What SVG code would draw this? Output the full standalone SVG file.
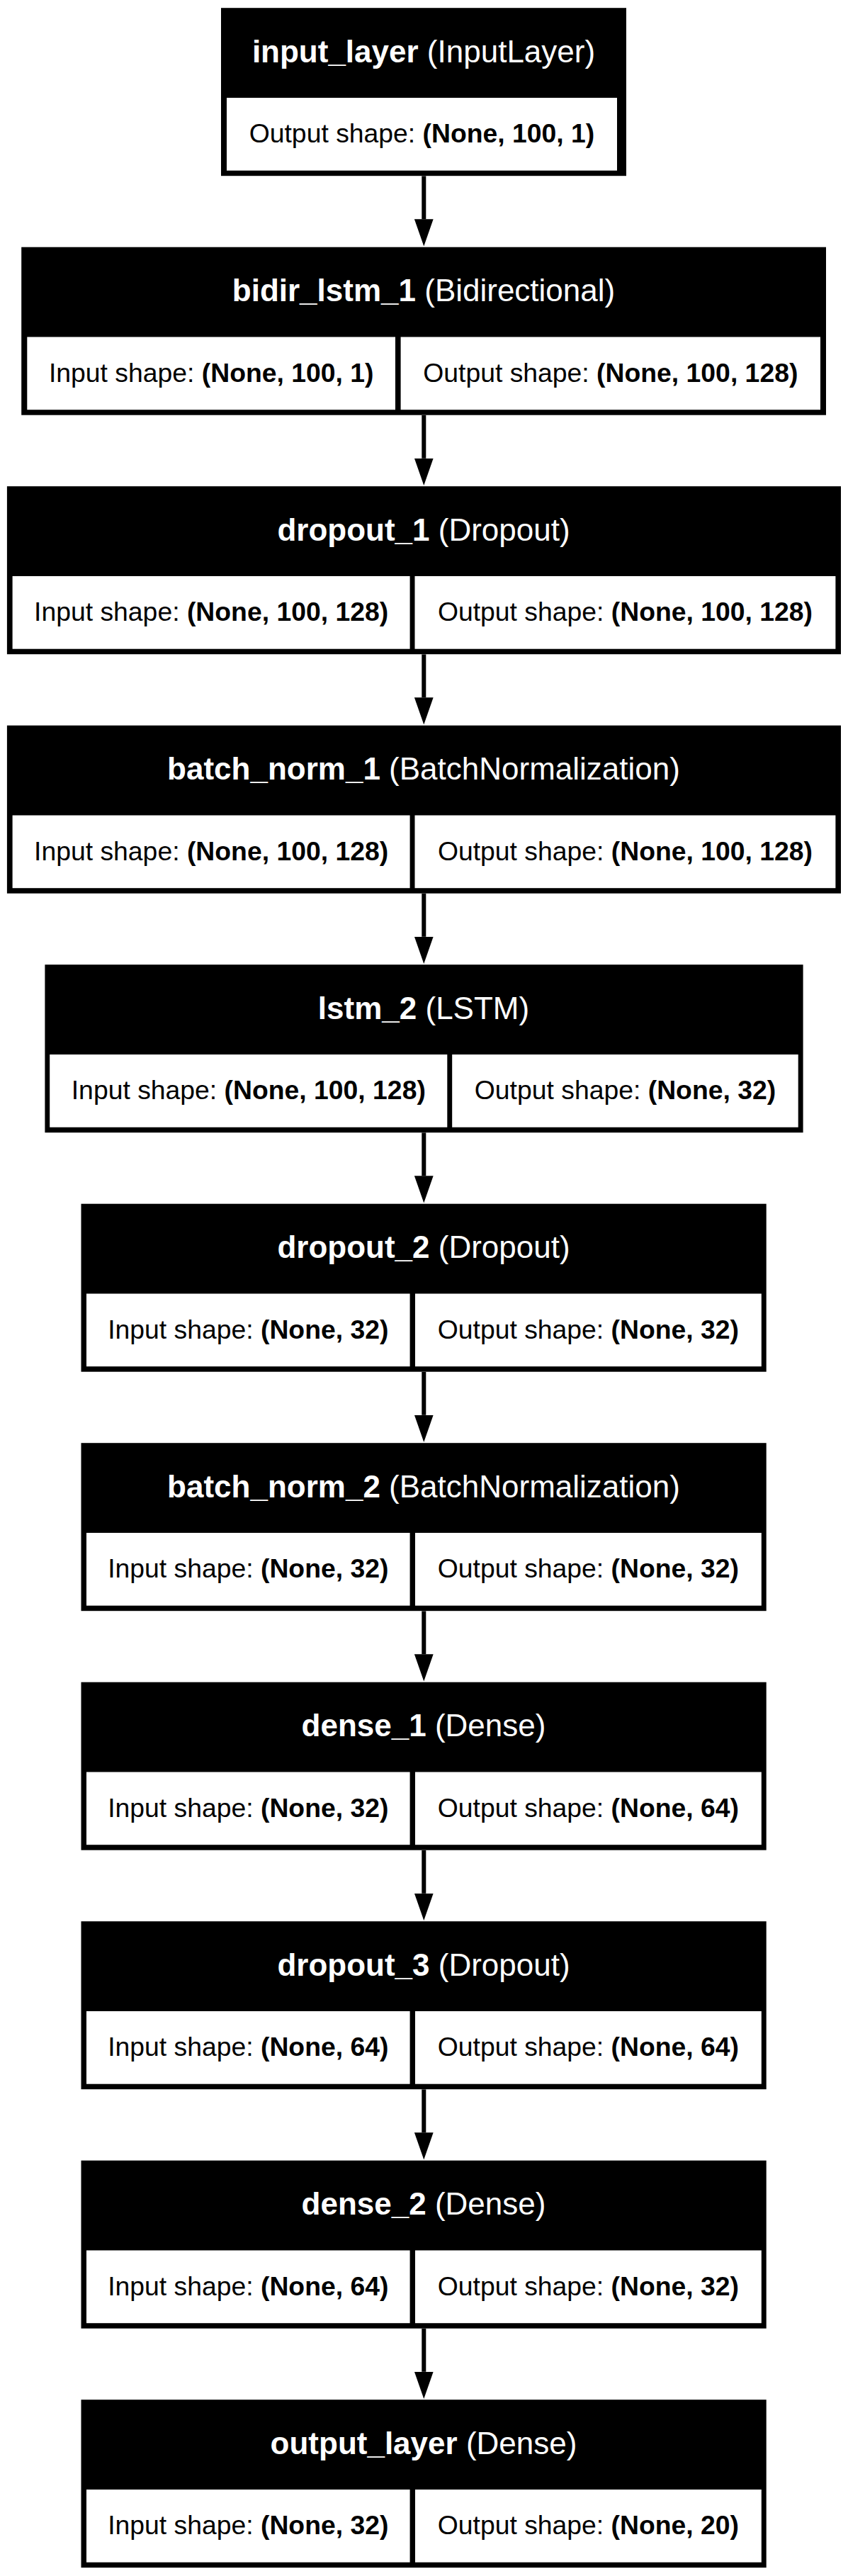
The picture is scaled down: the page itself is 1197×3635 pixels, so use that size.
<svg xmlns="http://www.w3.org/2000/svg" width="1197" height="3635" viewBox="0 0 1197 3635">
<defs>
<style>
.frame{fill:#000}
.cell{fill:#fff}
.title{font-family:"Liberation Sans",Arial,Helvetica,sans-serif;font-size:44px;fill:#fff;text-anchor:middle}
.body{font-family:"Liberation Sans",Arial,Helvetica,sans-serif;font-size:37.35px;fill:#000;text-anchor:middle}
.b{font-weight:bold}
.edge{stroke:#000;stroke-width:6;fill:none;marker-end:url(#head)}
</style>
<marker id="head" markerUnits="userSpaceOnUse" viewBox="0 0 38.2 26.7" markerWidth="38.2" markerHeight="26.7" refX="0" refY="13.35" orient="auto">
<path d="M0,0 L38.2,13.35 L0,26.7 Z" fill="#000"/>
</marker>
</defs>
<rect width="1197" height="3635" fill="#fff"/>
<g id="connectors">
<line class="edge" x1="598.3" y1="248.4" x2="598.3" y2="309.3"/>
<line class="edge" x1="598.3" y1="585.9" x2="598.3" y2="646.8"/>
<line class="edge" x1="598.3" y1="923.4" x2="598.3" y2="984.3"/>
<line class="edge" x1="598.3" y1="1260.9" x2="598.3" y2="1321.8"/>
<line class="edge" x1="598.3" y1="1598.4" x2="598.3" y2="1659.3"/>
<line class="edge" x1="598.3" y1="1935.9" x2="598.3" y2="1996.8"/>
<line class="edge" x1="598.3" y1="2273.4" x2="598.3" y2="2334.3"/>
<line class="edge" x1="598.3" y1="2610.9" x2="598.3" y2="2671.8"/>
<line class="edge" x1="598.3" y1="2948.4" x2="598.3" y2="3009.3"/>
<line class="edge" x1="598.3" y1="3285.9" x2="598.3" y2="3346.8"/>
</g>
<g id="input_layer" transform="translate(0,11.2)">
<rect class="frame" x="312" y="0" width="572" height="237"/>
<rect class="cell" x="320" y="126.8" width="551" height="102.7"/>
<text class="title" x="598" y="76.5"><tspan class="b">input_layer</tspan> (InputLayer)</text>
<text class="body" x="595.5" y="190.3">Output shape: <tspan class="b">(None, 100, 1)</tspan></text>
</g>
<g id="bidir_lstm_1" transform="translate(0,348.7)">
<rect class="frame" x="30.2" y="0" width="1135.8" height="237"/>
<rect class="cell" x="38.3" y="126.8" width="519.7" height="102.7"/>
<rect class="cell" x="565.6" y="126.8" width="592.4" height="102.7"/>
<text class="title" x="598" y="76.5"><tspan class="b">bidir_lstm_1</tspan> (Bidirectional)</text>
<text class="body" x="298.2" y="190.3">Input shape: <tspan class="b">(None, 100, 1)</tspan></text>
<text class="body" x="861.8" y="190.3">Output shape: <tspan class="b">(None, 100, 128)</tspan></text>
</g>
<g id="dropout_1" transform="translate(0,686.2)">
<rect class="frame" x="9.9" y="0" width="1177.1" height="237"/>
<rect class="cell" x="17.6" y="126.8" width="561" height="102.7"/>
<rect class="cell" x="585.5" y="126.8" width="593.9" height="102.7"/>
<text class="title" x="598" y="76.5"><tspan class="b">dropout_1</tspan> (Dropout)</text>
<text class="body" x="298.1" y="190.3">Input shape: <tspan class="b">(None, 100, 128)</tspan></text>
<text class="body" x="882.5" y="190.3">Output shape: <tspan class="b">(None, 100, 128)</tspan></text>
</g>
<g id="batch_norm_1" transform="translate(0,1023.7)">
<rect class="frame" x="9.9" y="0" width="1177.1" height="237"/>
<rect class="cell" x="17.6" y="126.8" width="561" height="102.7"/>
<rect class="cell" x="585.5" y="126.8" width="593.9" height="102.7"/>
<text class="title" x="598" y="76.5"><tspan class="b">batch_norm_1</tspan> (BatchNormalization)</text>
<text class="body" x="298.1" y="190.3">Input shape: <tspan class="b">(None, 100, 128)</tspan></text>
<text class="body" x="882.5" y="190.3">Output shape: <tspan class="b">(None, 100, 128)</tspan></text>
</g>
<g id="lstm_2" transform="translate(0,1361.2)">
<rect class="frame" x="63.4" y="0" width="1070.2" height="237"/>
<rect class="cell" x="70.2" y="126.8" width="561.1" height="102.7"/>
<rect class="cell" x="638.2" y="126.8" width="488.5" height="102.7"/>
<text class="title" x="598" y="76.5"><tspan class="b">lstm_2</tspan> (LSTM)</text>
<text class="body" x="350.8" y="190.3">Input shape: <tspan class="b">(None, 100, 128)</tspan></text>
<text class="body" x="882.5" y="190.3">Output shape: <tspan class="b">(None, 32)</tspan></text>
</g>
<g id="dropout_2" transform="translate(0,1698.7)">
<rect class="frame" x="114.5" y="0" width="967.2" height="237"/>
<rect class="cell" x="122" y="126.8" width="456.6" height="102.7"/>
<rect class="cell" x="586" y="126.8" width="488.8" height="102.7"/>
<text class="title" x="598" y="76.5"><tspan class="b">dropout_2</tspan> (Dropout)</text>
<text class="body" x="350.3" y="190.3">Input shape: <tspan class="b">(None, 32)</tspan></text>
<text class="body" x="830.4" y="190.3">Output shape: <tspan class="b">(None, 32)</tspan></text>
</g>
<g id="batch_norm_2" transform="translate(0,2036.2)">
<rect class="frame" x="114.5" y="0" width="967.2" height="237"/>
<rect class="cell" x="122" y="126.8" width="456.6" height="102.7"/>
<rect class="cell" x="586" y="126.8" width="488.8" height="102.7"/>
<text class="title" x="598" y="76.5"><tspan class="b">batch_norm_2</tspan> (BatchNormalization)</text>
<text class="body" x="350.3" y="190.3">Input shape: <tspan class="b">(None, 32)</tspan></text>
<text class="body" x="830.4" y="190.3">Output shape: <tspan class="b">(None, 32)</tspan></text>
</g>
<g id="dense_1" transform="translate(0,2373.7)">
<rect class="frame" x="114.5" y="0" width="967.2" height="237"/>
<rect class="cell" x="122" y="126.8" width="456.6" height="102.7"/>
<rect class="cell" x="586" y="126.8" width="488.8" height="102.7"/>
<text class="title" x="598" y="76.5"><tspan class="b">dense_1</tspan> (Dense)</text>
<text class="body" x="350.3" y="190.3">Input shape: <tspan class="b">(None, 32)</tspan></text>
<text class="body" x="830.4" y="190.3">Output shape: <tspan class="b">(None, 64)</tspan></text>
</g>
<g id="dropout_3" transform="translate(0,2711.2)">
<rect class="frame" x="114.5" y="0" width="967.2" height="237"/>
<rect class="cell" x="122" y="126.8" width="456.6" height="102.7"/>
<rect class="cell" x="586" y="126.8" width="488.8" height="102.7"/>
<text class="title" x="598" y="76.5"><tspan class="b">dropout_3</tspan> (Dropout)</text>
<text class="body" x="350.3" y="190.3">Input shape: <tspan class="b">(None, 64)</tspan></text>
<text class="body" x="830.4" y="190.3">Output shape: <tspan class="b">(None, 64)</tspan></text>
</g>
<g id="dense_2" transform="translate(0,3048.7)">
<rect class="frame" x="114.5" y="0" width="967.2" height="237"/>
<rect class="cell" x="122" y="126.8" width="456.6" height="102.7"/>
<rect class="cell" x="586" y="126.8" width="488.8" height="102.7"/>
<text class="title" x="598" y="76.5"><tspan class="b">dense_2</tspan> (Dense)</text>
<text class="body" x="350.3" y="190.3">Input shape: <tspan class="b">(None, 64)</tspan></text>
<text class="body" x="830.4" y="190.3">Output shape: <tspan class="b">(None, 32)</tspan></text>
</g>
<g id="output_layer" transform="translate(0,3386.2)">
<rect class="frame" x="114.5" y="0" width="967.2" height="237"/>
<rect class="cell" x="122" y="126.8" width="456.6" height="102.7"/>
<rect class="cell" x="586" y="126.8" width="488.8" height="102.7"/>
<text class="title" x="598" y="76.5"><tspan class="b">output_layer</tspan> (Dense)</text>
<text class="body" x="350.3" y="190.3">Input shape: <tspan class="b">(None, 32)</tspan></text>
<text class="body" x="830.4" y="190.3">Output shape: <tspan class="b">(None, 20)</tspan></text>
</g>
</svg>
